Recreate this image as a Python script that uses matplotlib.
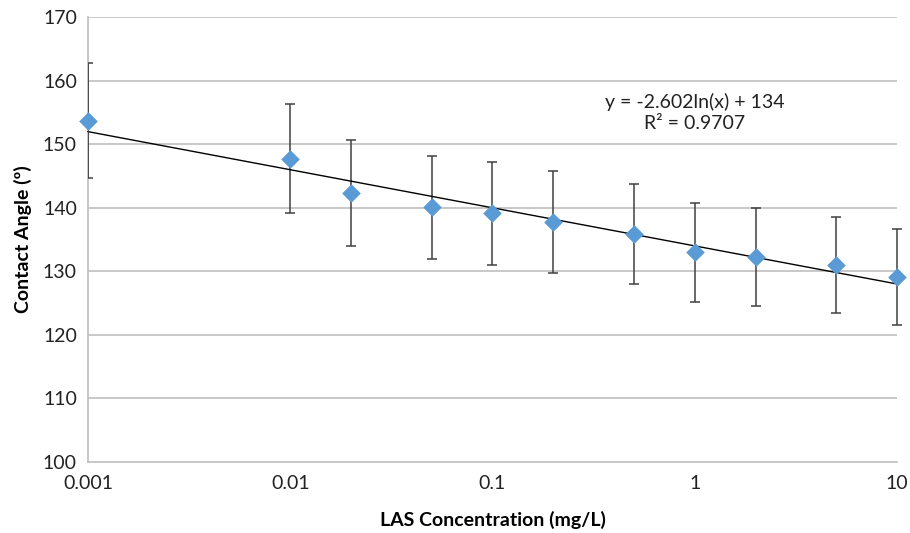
import matplotlib
matplotlib.use("Agg")
import matplotlib.pyplot as plt
import numpy as np

plt.rcParams['font.family'] = ['Lato', 'DejaVu Sans']

conc = [0.001, 0.01, 0.02, 0.05, 0.1, 0.2, 0.5, 1, 2, 5, 10]
angle = [153.7, 147.7, 142.3, 140.1, 139.1, 137.8, 135.9, 133.0, 132.3, 131.0, 129.1]
err = [9.0, 8.6, 8.3, 8.1, 8.1, 8.0, 7.9, 7.8, 7.7, 7.6, 7.6]
fit_slope = -2.602
fit_intercept = 134
x_ticks = [0.001, 0.01, 0.1, 1, 10]
x_ticklabels = ["0.001", "0.01", "0.1", "1", "10"]
y_ticks = [100, 110, 120, 130, 140, 150, 160, 170]

fig = plt.figure(figsize=(9.1, 5.33), dpi=100)
ax = fig.add_axes([0.0967, 0.1332, 0.889, 0.8348])

ax.set_xscale('log')
ax.set_xlim(0.001, 10)
ax.set_ylim(100, 170)

for y in y_ticks[1:]:
    ax.axhline(y, color='#BFBFBF', lw=1.2, zorder=0)

# first point: clipped at the left axis edge, as in the reference
ax.errorbar(conc[:1], angle[:1], yerr=err[:1], fmt='none', ecolor='#404040', elinewidth=1.3,
            capsize=3.5, capthick=1.1, zorder=5, clip_on=True)
ax.errorbar(conc[1:], angle[1:], yerr=err[1:], fmt='none', ecolor='#404040', elinewidth=1.1,
            capsize=3.5, capthick=1.1, zorder=2, clip_on=False)

xf = np.array([conc[0], conc[-1]])
ax.plot(xf, fit_slope * np.log(xf) + fit_intercept, color='black', lw=1.0, zorder=3, clip_on=False)

ax.scatter(conc, angle, marker='D', s=90, color='#5B9BD5', zorder=6, clip_on=False, linewidths=0)

ax.set_xticks(x_ticks)
ax.set_xticklabels(x_ticklabels)
ax.xaxis.set_minor_locator(matplotlib.ticker.NullLocator())
ax.set_yticks(y_ticks)
ax.tick_params(axis='both', length=0, labelsize=14, colors='#222222')
ax.tick_params(axis='x', pad=9)
ax.tick_params(axis='y', pad=8)

for s in ['top', 'right']:
    ax.spines[s].set_visible(False)
for s in ['left', 'bottom']:
    ax.spines[s].set_color('#BFBFBF')
    ax.spines[s].set_linewidth(1.2)
    ax.spines[s].set_zorder(1)

ax.set_xlabel("LAS Concentration (mg/L)", fontsize=14, fontweight='bold', labelpad=14)
ax.set_ylabel("Contact Angle (º)", fontsize=14, fontweight='bold', labelpad=8)

ax.text(1.0, 155.0, "y = -2.602ln(x) + 134\nR² = 0.9707", ha='center', va='center',
        fontsize=14, linespacing=1.25, color='#222222')

fig.savefig("out.png", dpi=100, facecolor='white')
